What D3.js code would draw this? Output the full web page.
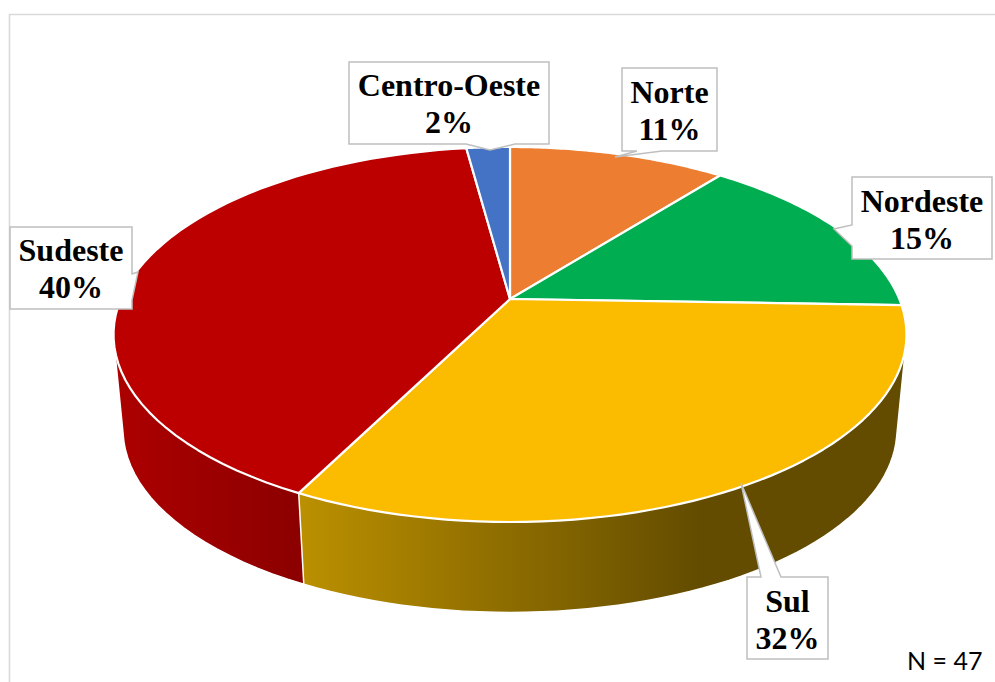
<!DOCTYPE html>
<html>
<head>
<meta charset="utf-8">
<script src="https://cdn.jsdelivr.net/npm/d3@7"></script>
<style>
  html, body { margin: 0; padding: 0; background: #fff; }
  svg { display: block; }
</style>
</head>
<body>
<div id="chart"></div>
<script>
// Regions and number of respondents (N = 47)
var regions = ["Norte", "Nordeste", "Sul", "Sudeste", "Centro-Oeste"];
var counts = [5, 7, 15, 19, 1];
var percentLabels = ["11%", "15%", "32%", "40%", "2%"];
var sampleNote = "N = 47";

var topColors = ["#ED7D31", "#00AD50", "#FBBC00", "#BC0000", "#4472C4"];
var wallStops = [null, null, ["#BA8F00", "#634C00"], ["#AD0000", "#8B0000"], null];

var width = 995, height = 682;

// Perspective of the pie: disc centre, radii and foreshortening
var cx = 510, cy = 299, radiusX = 389.3, radiusY = 180.8, tilt = 0.1893;
// Lower disc is the top one scaled towards the vanishing point below
var vanishY = 4291, lowerScale = 0.976;

var svg = d3.select("#chart").append("svg")
  .attr("width", width)
  .attr("height", height);

// Frame, open on the right and at the bottom
svg.append("path")
  .attr("d", d3.line()([[9.5, height], [9.5, 14.5], [width, 14.5]]))
  .attr("fill", "none")
  .attr("stroke", "#D9D9D9")
  .attr("stroke-width", 1.6);

function project(angle, lower) {
  var u = Math.sin(angle), v = -Math.cos(angle);
  var d = 1 - tilt * v;
  var x = cx + radiusX * u / d, y = cy + radiusY * v / d;
  if (lower) {
    x = cx + (x - cx) * lowerScale;
    y = vanishY + (y - vanishY) * lowerScale;
  }
  return [x, y];
}

function arcPoints(a0, a1, lower) {
  return d3.range(0, 61).map(function(i) {
    return project(a0 + (a1 - a0) * i / 60, lower);
  });
}

var pie = d3.pie().sort(null);
var slices = pie(counts);
var line = d3.line();
var defs = svg.append("defs");

// Side walls, only Sul and Sudeste can be seen.
// Sudeste first: its hull runs behind the Sul wall
[3, 2].forEach(function(i) {
  var s = slices[i];
  var hull = d3.polygonHull(arcPoints(s.startAngle, s.endAngle, false)
    .concat(arcPoints(s.startAngle, s.endAngle, true)));

  var grad = defs.append("linearGradient")
    .attr("id", "wall-" + i)
    .attr("gradientUnits", "userSpaceOnUse")
    .attr("y1", 0).attr("y2", 0);
  if (i === 2) { grad.attr("x1", 304).attr("x2", 700); }
  else { grad.attr("x1", 114).attr("x2", 304); }
  grad.append("stop").attr("offset", "0%").attr("stop-color", wallStops[i][0]);
  grad.append("stop").attr("offset", "100%").attr("stop-color", wallStops[i][1]);

  svg.append("path")
    .attr("d", line(hull) + "Z")
    .attr("fill", "url(#wall-" + i + ")")
    .attr("stroke", "#fff")
    .attr("stroke-width", 1.5)
    .attr("stroke-linejoin", "round");
});

// Top face
svg.append("g").selectAll("path")
  .data(slices)
  .join("path")
  .attr("d", function(s) {
    return line([[cx, cy]].concat(arcPoints(s.startAngle, s.endAngle, false))) + "Z";
  })
  .attr("fill", function(s, i) { return topColors[i]; })
  .attr("stroke", "#fff")
  .attr("stroke-width", 2.2)
  .attr("stroke-linejoin", "round");

// Callout shapes: box corners, then pointer base and tip on one side
var callouts = [
  { x0: 622, y0: 68, x1: 717, y1: 151, side: "bottom", a: 662, b: 637, tip: [615, 157], base: 103 },
  { x0: 852, y0: 177, x1: 992, y1: 259, side: "left", a: 246, b: 225, tip: [834, 229], base: 212 },
  { x0: 747, y0: 577, x1: 828, y1: 659, side: "top", a: 761, b: 781, tip: [741, 483], base: 612 },
  { x0: 10, y0: 227, x1: 132, y1: 309, side: "right", a: 274, b: 300, tip: [138, 272], base: 261 },
  { x0: 349, y0: 62, x1: 549, y1: 144, side: "bottom", a: 515, b: 466, tip: [490, 150], base: 96 }
];

function calloutPath(c) {
  var pts = [[c.x0, c.y0]];
  if (c.side === "top") pts.push([c.a, c.y0], c.tip, [c.b, c.y0]);
  pts.push([c.x1, c.y0]);
  if (c.side === "right") pts.push([c.x1, c.a], c.tip, [c.x1, c.b]);
  pts.push([c.x1, c.y1]);
  if (c.side === "bottom") pts.push([c.a, c.y1], c.tip, [c.b, c.y1]);
  pts.push([c.x0, c.y1]);
  if (c.side === "left") pts.push([c.x0, c.a], c.tip, [c.x0, c.b]);
  return line(pts) + "Z";
}

var labels = svg.append("g").selectAll("g")
  .data(regions)
  .join("g");

labels.append("path")
  .attr("d", function(d, i) { return calloutPath(callouts[i]); })
  .attr("fill", "#fff")
  .attr("stroke", "#BFBFBF")
  .attr("stroke-width", 1.5);

labels.append("text")
  .attr("x", function(d, i) { return (callouts[i].x0 + callouts[i].x1) / 2; })
  .attr("y", function(d, i) { return callouts[i].base; })
  .attr("text-anchor", "middle")
  .attr("font-family", "'Liberation Serif', serif")
  .attr("font-weight", "bold")
  .attr("font-size", 32)
  .attr("fill", "#000")
  .text(function(d) { return d; });

labels.append("text")
  .attr("x", function(d, i) { return (callouts[i].x0 + callouts[i].x1) / 2; })
  .attr("y", function(d, i) { return callouts[i].base + 36.5; })
  .attr("text-anchor", "middle")
  .attr("font-family", "'Liberation Serif', serif")
  .attr("font-weight", "bold")
  .attr("font-size", 32)
  .attr("fill", "#000")
  .text(function(d, i) { return percentLabels[i]; });

svg.append("text")
  .attr("x", 907)
  .attr("y", 670)
  .attr("font-family", "Lato, sans-serif")
  .attr("font-size", 25)
  .attr("fill", "#000")
  .text(sampleNote);
</script>
</body>
</html>
